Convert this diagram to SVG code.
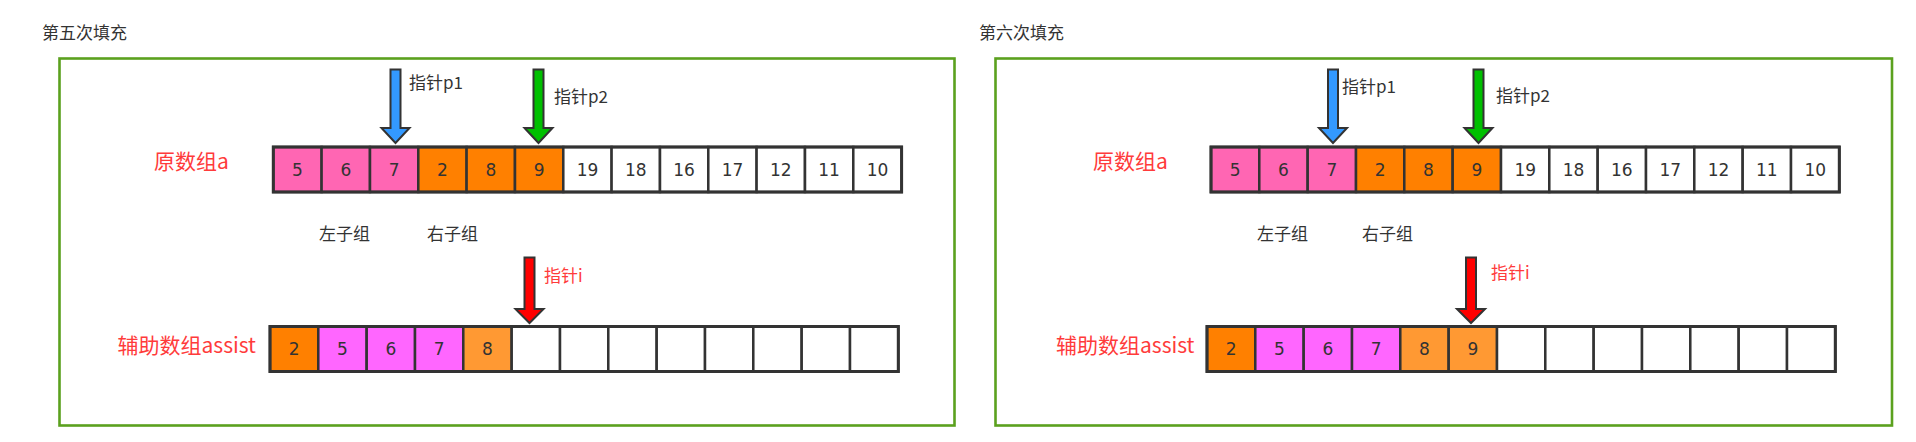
<svg xmlns="http://www.w3.org/2000/svg" width="1916" height="442" viewBox="0 0 1916 442">
<style>
.frame{fill:none;stroke:#5ba11e;stroke-width:2.6}
.cell{stroke:#333;stroke-width:2.5}
.outer{fill:none;stroke:#333;stroke-width:3}
.pk{fill:#ff66b3}.mg{fill:#ff66ff}.or{fill:#ff8000}.lo{fill:#ff9933}.wh{fill:#fff}
.num{font-family:"DejaVu Sans",Verdana,sans-serif;font-size:17px;fill:#333;text-anchor:middle;dominant-baseline:central}
.lbl{font-family:"Noto Sans CJK SC","Noto Sans",sans-serif;font-size:17px;fill:#333}
.red{font-family:"Noto Sans CJK SC","Noto Sans",sans-serif;font-size:21px;fill:#ff3b3b}
.redS{font-family:"Noto Sans CJK SC","Noto Sans",sans-serif;font-size:17px;fill:#ff3b3b}
.arr{stroke:#333;stroke-width:2;stroke-linejoin:miter}
</style>
<rect width="1916" height="442" fill="#fff"/>

<g id="panel5">
  <text class="lbl" x="42" y="39">第五次填充</text>
  <rect id="frame5" class="frame" x="59.5" y="58.5" width="895" height="367"/>
  <text class="red" x="154" y="169">原数组a</text>
  <g id="arrayA5">
    <rect class="cell pk" x="273.3" y="147" width="48.33" height="45"/><text class="num" x="297.5" y="169.5">5</text>
    <rect class="cell pk" x="321.6" y="147" width="48.33" height="45"/><text class="num" x="345.8" y="169.5">6</text>
    <rect class="cell pk" x="370" y="147" width="48.33" height="45"/><text class="num" x="394.1" y="169.5">7</text>
    <rect class="cell or" x="418.3" y="147" width="48.33" height="45"/><text class="num" x="442.5" y="169.5">2</text>
    <rect class="cell or" x="466.6" y="147" width="48.33" height="45"/><text class="num" x="490.8" y="169.5">8</text>
    <rect class="cell or" x="515" y="147" width="48.33" height="45"/><text class="num" x="539.1" y="169.5">9</text>
    <rect class="cell wh" x="563.3" y="147" width="48.33" height="45"/><text class="num" x="587.5" y="169.5">19</text>
    <rect class="cell wh" x="611.6" y="147" width="48.33" height="45"/><text class="num" x="635.8" y="169.5">18</text>
    <rect class="cell wh" x="660" y="147" width="48.33" height="45"/><text class="num" x="684.1" y="169.5">16</text>
    <rect class="cell wh" x="708.3" y="147" width="48.33" height="45"/><text class="num" x="732.5" y="169.5">17</text>
    <rect class="cell wh" x="756.6" y="147" width="48.33" height="45"/><text class="num" x="780.8" y="169.5">12</text>
    <rect class="cell wh" x="805" y="147" width="48.33" height="45"/><text class="num" x="829.1" y="169.5">11</text>
    <rect class="cell wh" x="853.3" y="147" width="48.33" height="45"/><text class="num" x="877.5" y="169.5">10</text>
    <rect class="outer" x="273.3" y="147" width="628.3" height="45"/>
  </g>
  <text class="lbl" x="319" y="239.5">左子组</text>
  <text class="lbl" x="427" y="239.5">右子组</text>
  <text class="red" x="117.5" y="353">辅助数组assist</text>
  <g id="assist5">
    <rect class="cell or" x="270" y="326.5" width="48.33" height="45"/><text class="num" x="294.2" y="349">2</text>
    <rect class="cell mg" x="318.3" y="326.5" width="48.33" height="45"/><text class="num" x="342.5" y="349">5</text>
    <rect class="cell mg" x="366.7" y="326.5" width="48.33" height="45"/><text class="num" x="390.8" y="349">6</text>
    <rect class="cell mg" x="415" y="326.5" width="48.33" height="45"/><text class="num" x="439.2" y="349">7</text>
    <rect class="cell lo" x="463.3" y="326.5" width="48.33" height="45"/><text class="num" x="487.5" y="349">8</text>
    <rect class="cell wh" x="511.7" y="326.5" width="48.33" height="45"/>
    <rect class="cell wh" x="560" y="326.5" width="48.33" height="45"/>
    <rect class="cell wh" x="608.3" y="326.5" width="48.33" height="45"/>
    <rect class="cell wh" x="656.7" y="326.5" width="48.33" height="45"/>
    <rect class="cell wh" x="705" y="326.5" width="48.33" height="45"/>
    <rect class="cell wh" x="753.3" y="326.5" width="48.33" height="45"/>
    <rect class="cell wh" x="801.7" y="326.5" width="48.33" height="45"/>
    <rect class="cell wh" x="850" y="326.5" width="48.33" height="45"/>
    <rect class="outer" x="270" y="326.5" width="628.3" height="45"/>
  </g>
  <g id="pointers5">
    <polygon class="arr" fill="#3399ff" points="390.5,69.5 400.5,69.5 400.5,128 409.5,128 395.5,143 381.5,128 390.5,128"/>
    <text class="lbl" x="409" y="89">指针p1</text>
    <polygon class="arr" fill="#00c000" points="533.5,69.5 543.5,69.5 543.5,128 552.5,128 538.5,143 524.5,128 533.5,128"/>
    <text class="lbl" x="554" y="102.5">指针p2</text>
    <polygon class="arr" fill="#ff0000" points="524.5,257.5 534.5,257.5 534.5,309 543.5,309 529.5,323 515.5,309 524.5,309"/>
    <text class="redS" x="544" y="281.5">指针i</text>
  </g>
</g>

<g id="panel6">
  <text class="lbl" x="979" y="38.5">第六次填充</text>
  <rect id="frame6" class="frame" x="995.5" y="58.5" width="896.5" height="367"/>
  <text class="red" x="1093" y="169">原数组a</text>
  <g id="arrayA6">
    <rect class="cell pk" x="1211" y="147" width="48.33" height="45"/><text class="num" x="1235.2" y="169.5">5</text>
    <rect class="cell pk" x="1259.3" y="147" width="48.33" height="45"/><text class="num" x="1283.5" y="169.5">6</text>
    <rect class="cell pk" x="1307.7" y="147" width="48.33" height="45"/><text class="num" x="1331.8" y="169.5">7</text>
    <rect class="cell or" x="1356" y="147" width="48.33" height="45"/><text class="num" x="1380.2" y="169.5">2</text>
    <rect class="cell or" x="1404.3" y="147" width="48.33" height="45"/><text class="num" x="1428.5" y="169.5">8</text>
    <rect class="cell or" x="1452.7" y="147" width="48.33" height="45"/><text class="num" x="1476.8" y="169.5">9</text>
    <rect class="cell wh" x="1501" y="147" width="48.33" height="45"/><text class="num" x="1525.2" y="169.5">19</text>
    <rect class="cell wh" x="1549.3" y="147" width="48.33" height="45"/><text class="num" x="1573.5" y="169.5">18</text>
    <rect class="cell wh" x="1597.7" y="147" width="48.33" height="45"/><text class="num" x="1621.8" y="169.5">16</text>
    <rect class="cell wh" x="1646" y="147" width="48.33" height="45"/><text class="num" x="1670.2" y="169.5">17</text>
    <rect class="cell wh" x="1694.3" y="147" width="48.33" height="45"/><text class="num" x="1718.5" y="169.5">12</text>
    <rect class="cell wh" x="1742.7" y="147" width="48.33" height="45"/><text class="num" x="1766.8" y="169.5">11</text>
    <rect class="cell wh" x="1791" y="147" width="48.33" height="45"/><text class="num" x="1815.2" y="169.5">10</text>
    <rect class="outer" x="1211" y="147" width="628.3" height="45"/>
  </g>
  <text class="lbl" x="1257" y="239.5">左子组</text>
  <text class="lbl" x="1362" y="239.5">右子组</text>
  <text class="red" x="1056" y="353">辅助数组assist</text>
  <g id="assist6">
    <rect class="cell or" x="1207" y="326.5" width="48.33" height="45"/><text class="num" x="1231.2" y="349">2</text>
    <rect class="cell mg" x="1255.3" y="326.5" width="48.33" height="45"/><text class="num" x="1279.5" y="349">5</text>
    <rect class="cell mg" x="1303.7" y="326.5" width="48.33" height="45"/><text class="num" x="1327.8" y="349">6</text>
    <rect class="cell mg" x="1352" y="326.5" width="48.33" height="45"/><text class="num" x="1376.2" y="349">7</text>
    <rect class="cell lo" x="1400.3" y="326.5" width="48.33" height="45"/><text class="num" x="1424.5" y="349">8</text>
    <rect class="cell lo" x="1448.7" y="326.5" width="48.33" height="45"/><text class="num" x="1472.8" y="349">9</text>
    <rect class="cell wh" x="1497" y="326.5" width="48.33" height="45"/>
    <rect class="cell wh" x="1545.3" y="326.5" width="48.33" height="45"/>
    <rect class="cell wh" x="1593.7" y="326.5" width="48.33" height="45"/>
    <rect class="cell wh" x="1642" y="326.5" width="48.33" height="45"/>
    <rect class="cell wh" x="1690.3" y="326.5" width="48.33" height="45"/>
    <rect class="cell wh" x="1738.7" y="326.5" width="48.33" height="45"/>
    <rect class="cell wh" x="1787" y="326.5" width="48.33" height="45"/>
    <rect class="outer" x="1207" y="326.5" width="628.3" height="45"/>
  </g>
  <g id="pointers6">
    <polygon class="arr" fill="#3399ff" points="1328,69.5 1338,69.5 1338,128 1347,128 1333,143 1319,128 1328,128"/>
    <text class="lbl" x="1342" y="93">指针p1</text>
    <polygon class="arr" fill="#00c000" points="1473.5,69.5 1483.5,69.5 1483.5,128 1492.5,128 1478.5,143 1464.5,128 1473.5,128"/>
    <text class="lbl" x="1496" y="101.5">指针p2</text>
    <polygon class="arr" fill="#ff0000" points="1466,257.5 1476,257.5 1476,309 1485,309 1471,323 1457,309 1466,309"/>
    <text class="redS" x="1491" y="279">指针i</text>
  </g>
</g>
</svg>
